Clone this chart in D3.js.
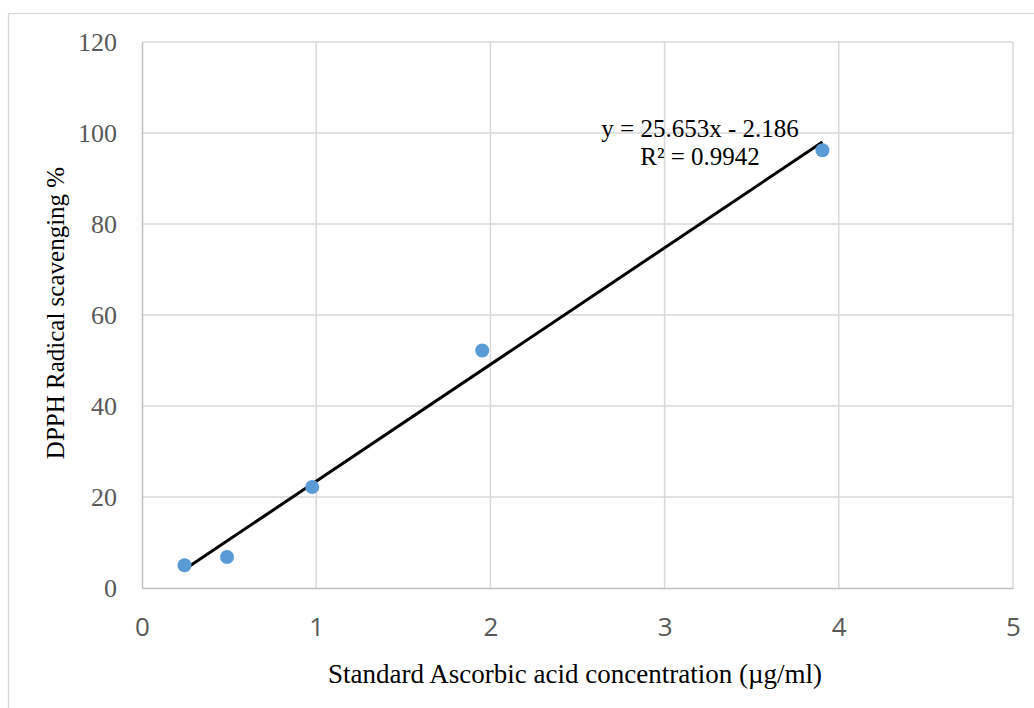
<!DOCTYPE html>
<meta charset="utf-8">
<script src="https://d3js.org/d3.v7.min.js"></script>
<style>
  body { margin: 0; background: #fff; }
</style>
<div id="chart"></div>
<script>

// data
var concentration = [0.244, 0.488, 0.977, 1.953, 3.906];
var scavenging = [5.0, 6.8, 22.2, 52.2, 96.2];
var xTicks = [0, 1, 2, 3, 4, 5];
var yTicks = [0, 20, 40, 60, 80, 100, 120];
var trendSlope = 25.653, trendIntercept = -2.186;
var equationLines = ["y = 25.653x - 2.186", "R\u00b2 = 0.9942"];

var W = 1034, H = 708;
var margin = {top: 42, right: 21, bottom: 120, left: 142},
    width = W - margin.left - margin.right,
    height = H - margin.top - margin.bottom;

var serif = "'Liberation Serif', 'Times New Roman', serif";

var svg = d3.select("#chart")
  .append("svg")
    .attr("width", W)
    .attr("height", H);

// chart border (runs off the right and bottom edges)
svg.append("rect")
    .attr("x", 8.5).attr("y", 13.5)
    .attr("width", W + 10).attr("height", H + 10)
    .style("fill", "none")
    .style("stroke", "#d9d9d9")
    .style("stroke-width", 1.3);

var g = svg.append("g")
    .attr("transform", "translate(" + margin.left + "," + margin.top + ")");

var x = d3.scaleLinear().domain([0, 5]).range([0, width]);
var y = d3.scaleLinear().domain([0, 120]).range([height, 0]);

// gridlines
g.selectAll(".hgrid")
  .data(yTicks.filter(function(d) { return d > 0; }))
  .enter().append("line")
    .attr("x1", 0).attr("x2", width)
    .attr("y1", function(d) { return y(d); })
    .attr("y2", function(d) { return y(d); })
    .style("stroke", "#d9d9d9").style("stroke-width", 1.5);

g.selectAll(".vgrid")
  .data(xTicks.filter(function(d) { return d > 0; }))
  .enter().append("line")
    .attr("x1", function(d) { return x(d); })
    .attr("x2", function(d) { return x(d); })
    .attr("y1", 0).attr("y2", height)
    .style("stroke", "#d9d9d9").style("stroke-width", 1.5);

// axes
var xAxis = g.append("g")
    .attr("transform", "translate(0," + height + ")")
    .call(d3.axisBottom(x).tickValues(xTicks).tickSize(0).tickPadding(30).tickFormat(d3.format("d")));
xAxis.select(".domain").style("stroke", "#bfbfbf").style("stroke-width", 1.5);
xAxis.selectAll("text")
    .style("font-family", "'Open Sans', sans-serif")
    .style("font-size", "26px")
    .style("fill", "#595959");

var yAxis = g.append("g")
    .call(d3.axisLeft(y).tickValues(yTicks).tickSize(0).tickPadding(25).tickFormat(d3.format("d")));
yAxis.select(".domain").style("stroke", "#bfbfbf").style("stroke-width", 1.5);
yAxis.selectAll("text")
    .style("font-family", serif)
    .style("font-size", "26px")
    .style("fill", "#595959");

// axis titles
svg.append("text")
    .attr("x", 575).attr("y", 683)
    .attr("text-anchor", "middle")
    .style("font-family", serif)
    .style("font-size", "27px")
    .style("fill", "#000")
    .text("Standard Ascorbic acid concentration (\u00b5g/ml)");

svg.append("text")
    .attr("transform", "translate(64,313) rotate(-90)")
    .attr("text-anchor", "middle")
    .style("font-family", serif)
    .style("font-size", "25px")
    .style("fill", "#000")
    .text("DPPH Radical scavenging %");

// trendline
var xs = d3.extent(concentration);
g.append("line")
    .attr("x1", x(xs[0])).attr("y1", y(trendSlope * xs[0] + trendIntercept))
    .attr("x2", x(xs[1])).attr("y2", y(trendSlope * xs[1] + trendIntercept))
    .style("stroke", "#000")
    .style("stroke-width", 3);

// points
g.selectAll("circle")
  .data(concentration)
  .enter().append("circle")
    .attr("cx", function(d) { return x(d); })
    .attr("cy", function(d, i) { return y(scavenging[i]); })
    .attr("r", 7)
    .style("fill", "#5b9bd5");

// equation label
svg.selectAll(".eq")
  .data(equationLines)
  .enter().append("text")
    .attr("x", 700)
    .attr("y", function(d, i) { return 137 + i * 28; })
    .attr("text-anchor", "middle")
    .style("font-family", serif)
    .style("font-size", "25px")
    .style("fill", "#000")
    .text(function(d) { return d; });

</script>
